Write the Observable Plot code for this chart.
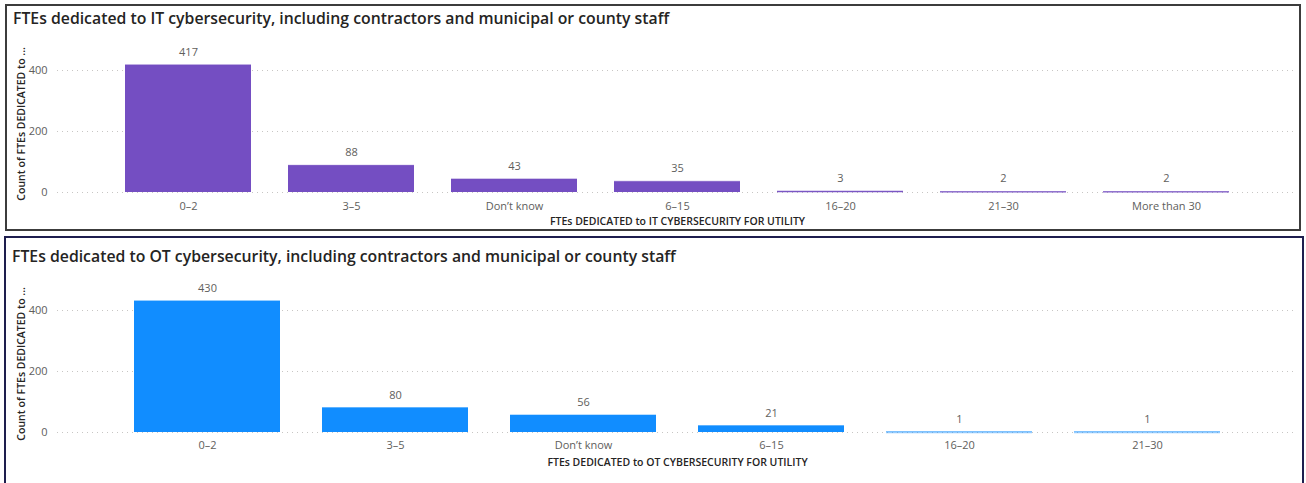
<!DOCTYPE html>
<html>
<head>
<meta charset="utf-8">
<script src="https://cdn.jsdelivr.net/npm/d3@7"></script>
<script src="https://cdn.jsdelivr.net/npm/@observablehq/plot@0.6"></script>
<style>
  html, body { margin: 0; padding: 0; background: #fff; width: 1306px; height: 483px; overflow: hidden; position: relative; }
  .panel { position: absolute; box-sizing: border-box; background: #fff; }
  #p1 { left: 5px; top: 4px; width: 1296px; height: 227px; border: 2px solid #3c3c3c; }
  #p2 { left: 4px; top: 236px; width: 1300px; height: 250px; border: 2px solid #1e1e4e; }
  .title { position: absolute; left: 6px; font-family: 'Open Sans', sans-serif; font-weight: 600; font-size: 15.8px; color: #252423; white-space: nowrap; }
  #p1 .title { top: 1px; }
  #p2 .title { top: 7px; }
  .chart { position: absolute; left: 0; }
  #c1 { top: 30px; }
  #c2 { top: 268px; }
</style>
</head>
<body>
<div class="panel" id="p1"><div class="title">FTEs dedicated to IT cybersecurity, including contractors and municipal or county staff</div></div>
<div class="panel" id="p2"><div class="title">FTEs dedicated to OT cybersecurity, including contractors and municipal or county staff</div></div>
<div class="chart" id="c1"></div>
<div class="chart" id="c2"></div>
<script>
// ---- Data ----
const itCategories = ["0–2", "3–5", "Don’t know", "6–15", "16–20", "21–30", "More than 30"];
const itCounts = [417, 88, 43, 35, 3, 2, 2];
const otCategories = ["0–2", "3–5", "Don’t know", "6–15", "16–20", "21–30"];
const otCounts = [430, 80, 56, 21, 1, 1];
const yTicks = [0, 200, 400];
const itXTitle = "FTEs DEDICATED to IT CYBERSECURITY FOR UTILITY";
const otXTitle = "FTEs DEDICATED to OT CYBERSECURITY FOR UTILITY";
const yTitle = "Count of FTEs DEDICATED to ...";

function chart(categories, counts, color, xTitle, opts) {
  const data = categories.map((c, i) => ({cat: c, n: counts[i]}));
  return Plot.plot({
    width: 1306,
    height: opts.height,
    marginLeft: 57,
    marginRight: 9,
    marginTop: opts.marginTop,
    marginBottom: opts.marginBottom,
    style: {fontFamily: "'Open Sans', sans-serif", fontSize: "11px", color: "#605e5c", background: "transparent"},
    x: {domain: categories, paddingInner: 0.225, paddingOuter: 0.4},
    y: {domain: [0, 450]},
    marks: [
      Plot.ruleY(yTicks, {stroke: "#c8c6c4", strokeDasharray: "1,4", strokeWidth: 1}),
      Plot.barY(data, {x: "cat", y: "n", fill: color}),
      Plot.tickY(data, {x: "cat", y: "n", stroke: color, strokeOpacity: 0.45, strokeWidth: 2}),
      Plot.text(data, {x: "cat", y: "n", text: d => String(d.n), dy: -13, fill: "#605e5c", fontSize: 11}),
      Plot.axisY({ticks: yTicks, tickSize: 0, tickPadding: 10, fontSize: 11, fill: "#605e5c",
        label: yTitle, labelAnchor: "center", labelOffset: 40, labelArrow: "none"}),
      Plot.axisX({tickSize: 0, tickPadding: opts.tickPadding, fontSize: 11, fill: "#605e5c",
        label: xTitle, labelAnchor: "center", labelOffset: opts.labelOffset, labelArrow: "none"})
    ]
  });
}

const c1 = chart(itCategories, itCounts, "#744EC2", itXTitle, {height: 200, marginTop: 24.75, marginBottom: 38, tickPadding: 10, labelOffset: 32});
const c2 = chart(otCategories, otCounts, "#118DFF", otXTitle, {height: 215, marginTop: 26.75, marginBottom: 51, tickPadding: 9, labelOffset: 33});
document.getElementById("c1").append(c1);
document.getElementById("c2").append(c2);

// style axis titles: semibold, smaller, darker
for (const svg of [c1, c2]) {
  svg.querySelectorAll("[aria-label='x-axis label'] text, [aria-label='y-axis label'] text").forEach(t => {
    t.setAttribute("font-size", "10.5");
    t.setAttribute("font-weight", "600");
    t.setAttribute("fill", "#252423");
  });
}
</script>
</body>
</html>
